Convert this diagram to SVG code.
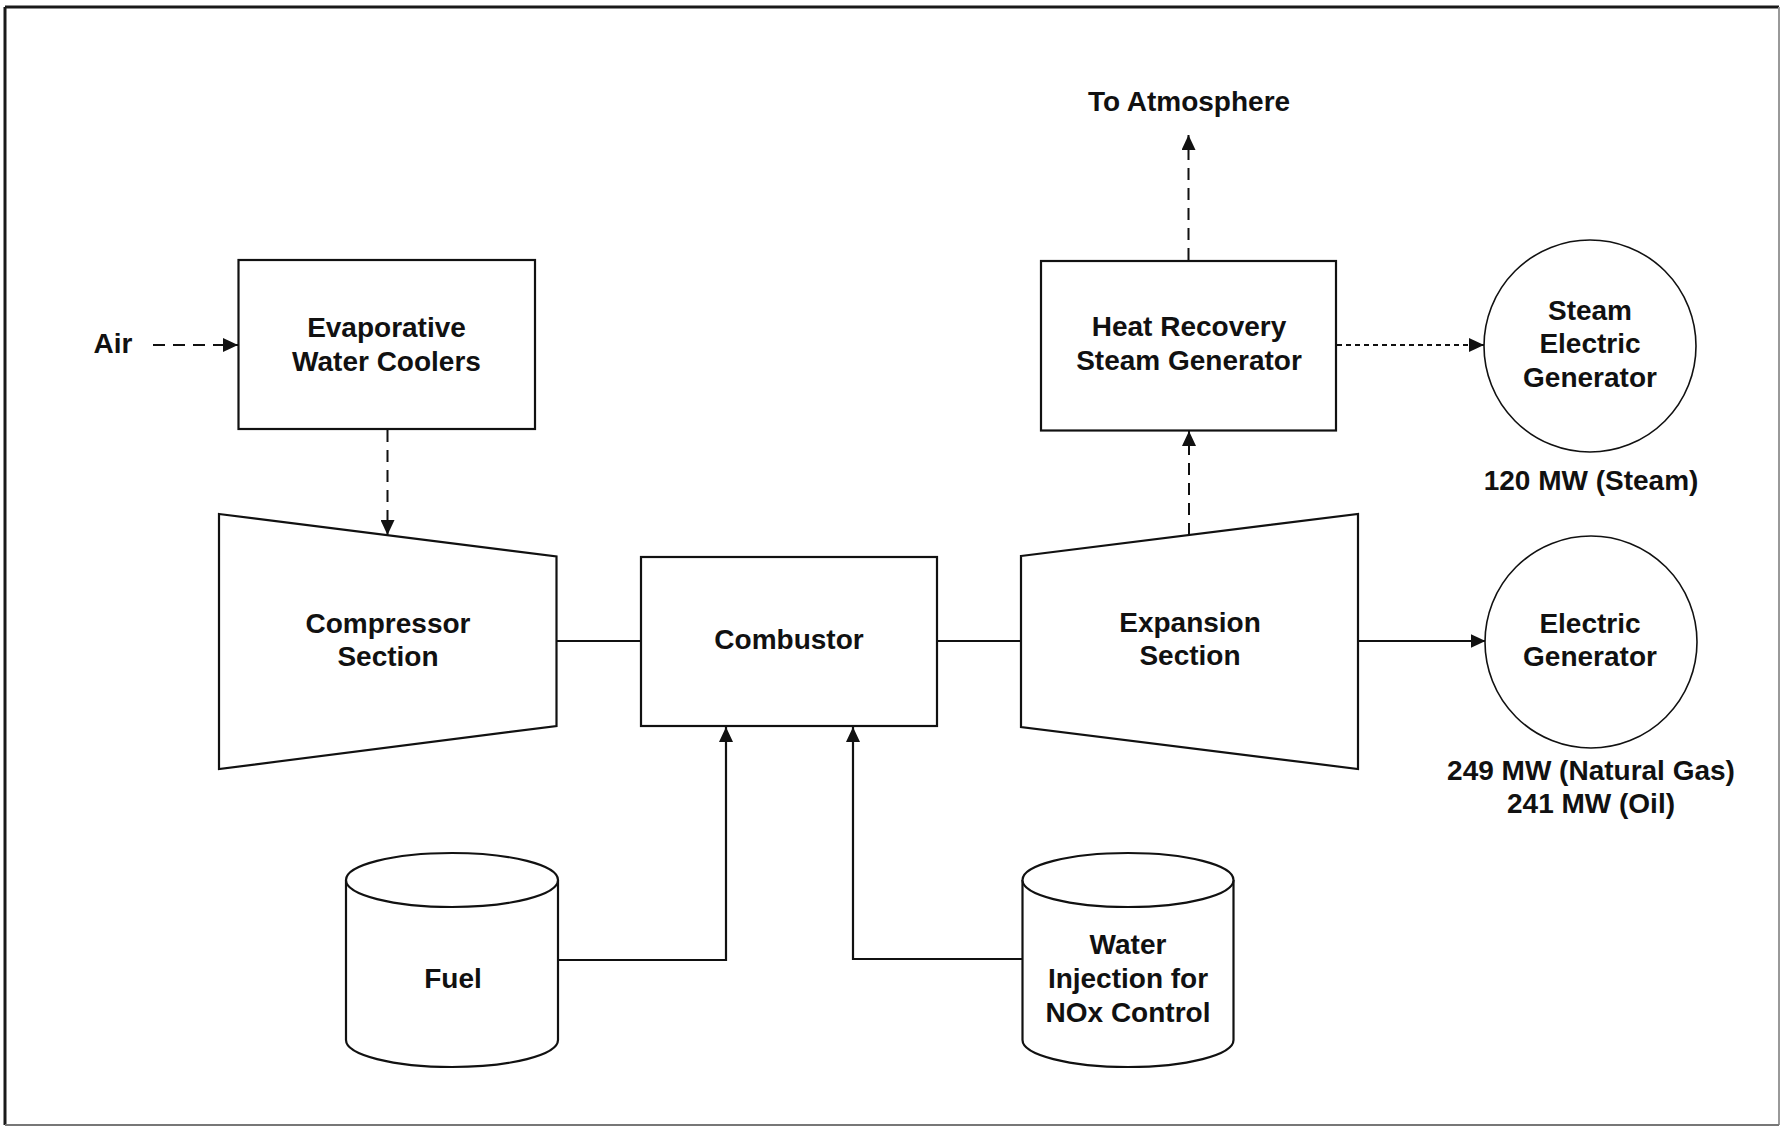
<svg xmlns="http://www.w3.org/2000/svg" width="1781" height="1127" viewBox="0 0 1781 1127">
  <style>
    .shape { fill: #ffffff; stroke: #111111; stroke-width: 2.2; }
    .gen { fill: #ffffff; stroke: #111111; stroke-width: 1.6; }
    .lbl { font-family: "Liberation Sans", Arial, Helvetica, sans-serif; font-weight: bold; font-size: 28px; fill: #111111; text-anchor: middle; }
    .solid { fill: none; stroke: #111111; stroke-width: 2.2; }
    .dash { fill: none; stroke: #111111; stroke-width: 2; stroke-dasharray: 12 8; }
    .dashfine { fill: none; stroke: #111111; stroke-width: 2.2; stroke-dasharray: 5 4; }
  </style>
  <defs>
    <marker id="arrow" markerUnits="userSpaceOnUse" markerWidth="16" markerHeight="14" refX="15" refY="7" orient="auto">
      <path d="M0,0 L15,7 L0,14 Z" fill="#111111"/>
    </marker>
  </defs>
  <rect x="0" y="0" width="1781" height="1127" fill="#ffffff"/>
  <g id="border">
    <line x1="5" y1="7" x2="1779" y2="7" stroke="#1a1a1a" stroke-width="3"/>
    <line x1="5" y1="7" x2="5" y2="1125" stroke="#1a1a1a" stroke-width="3"/>
    <line x1="1779" y1="7" x2="1779" y2="1125" stroke="#999999" stroke-width="2"/>
    <line x1="5" y1="1125" x2="1779" y2="1125" stroke="#777777" stroke-width="2"/>
  </g>

  <g id="connectors">
    <path class="dash" d="M153,345 H238" marker-end="url(#arrow)"/>
    <path class="dash" d="M387.5,430 V535" marker-end="url(#arrow)"/>
    <path class="solid" d="M556.5,641 H641"/>
    <path class="solid" d="M937,641 H1021"/>
    <path class="solid" d="M1358,641 H1485.5" marker-end="url(#arrow)"/>
    <path class="dash" d="M1189,535 V431" marker-end="url(#arrow)"/>
    <path class="dash" d="M1188.5,260 V135" marker-end="url(#arrow)"/>
    <path class="dashfine" d="M1337,345 H1484" marker-end="url(#arrow)"/>
    <path class="solid" d="M558,960 H726 V727" marker-end="url(#arrow)"/>
    <path class="solid" d="M1022,959 H853 V727" marker-end="url(#arrow)"/>
  </g>

  <g id="air-label">
    <text class="lbl" x="113" y="353">Air</text>
  </g>

  <g id="atmosphere-label">
    <text class="lbl" x="1189" y="111">To Atmosphere</text>
  </g>

  <g id="evaporative-coolers">
    <rect class="shape" x="238.5" y="260" width="296.5" height="169"/>
    <text class="lbl" x="386.5" y="337">Evaporative</text>
    <text class="lbl" x="386.5" y="371">Water Coolers</text>
  </g>

  <g id="hrsg">
    <rect class="shape" x="1041" y="261" width="295" height="169.5"/>
    <text class="lbl" x="1189" y="336">Heat Recovery</text>
    <text class="lbl" x="1189" y="370">Steam Generator</text>
  </g>

  <g id="steam-generator">
    <circle class="gen" cx="1590" cy="346" r="106"/>
    <text class="lbl" x="1590" y="320">Steam</text>
    <text class="lbl" x="1590" y="353">Electric</text>
    <text class="lbl" x="1590" y="387">Generator</text>
    <text class="lbl" x="1591" y="490">120 MW (Steam)</text>
  </g>

  <g id="compressor">
    <polygon class="shape" points="219,514 556.5,556.5 556.5,726 219,769"/>
    <text class="lbl" x="388" y="633">Compressor</text>
    <text class="lbl" x="388" y="666">Section</text>
  </g>

  <g id="combustor">
    <rect class="shape" x="641" y="557" width="296" height="169"/>
    <text class="lbl" x="789" y="649">Combustor</text>
  </g>

  <g id="expansion">
    <polygon class="shape" points="1021,556 1358,514 1358,769 1021,727"/>
    <text class="lbl" x="1190" y="632">Expansion</text>
    <text class="lbl" x="1190" y="665">Section</text>
  </g>

  <g id="electric-generator">
    <circle class="gen" cx="1591" cy="642" r="106"/>
    <text class="lbl" x="1590" y="633">Electric</text>
    <text class="lbl" x="1590" y="666">Generator</text>
    <text class="lbl" x="1591" y="780">249 MW (Natural Gas)</text>
    <text class="lbl" x="1591" y="813">241 MW (Oil)</text>
  </g>

  <g id="fuel">
    <path class="shape" d="M346,880 V1040 A106,27 0 0 0 558,1040 V880"/>
    <ellipse class="shape" cx="452" cy="880" rx="106" ry="27"/>
    <text class="lbl" x="453" y="988">Fuel</text>
  </g>

  <g id="water-injection">
    <path class="shape" d="M1022.5,880 V1040 A105.5,27 0 0 0 1233.5,1040 V880"/>
    <ellipse class="shape" cx="1128" cy="880" rx="105.5" ry="27"/>
    <text class="lbl" x="1128" y="954">Water</text>
    <text class="lbl" x="1128" y="988">Injection for</text>
    <text class="lbl" x="1128" y="1022">NOx Control</text>
  </g>
</svg>
